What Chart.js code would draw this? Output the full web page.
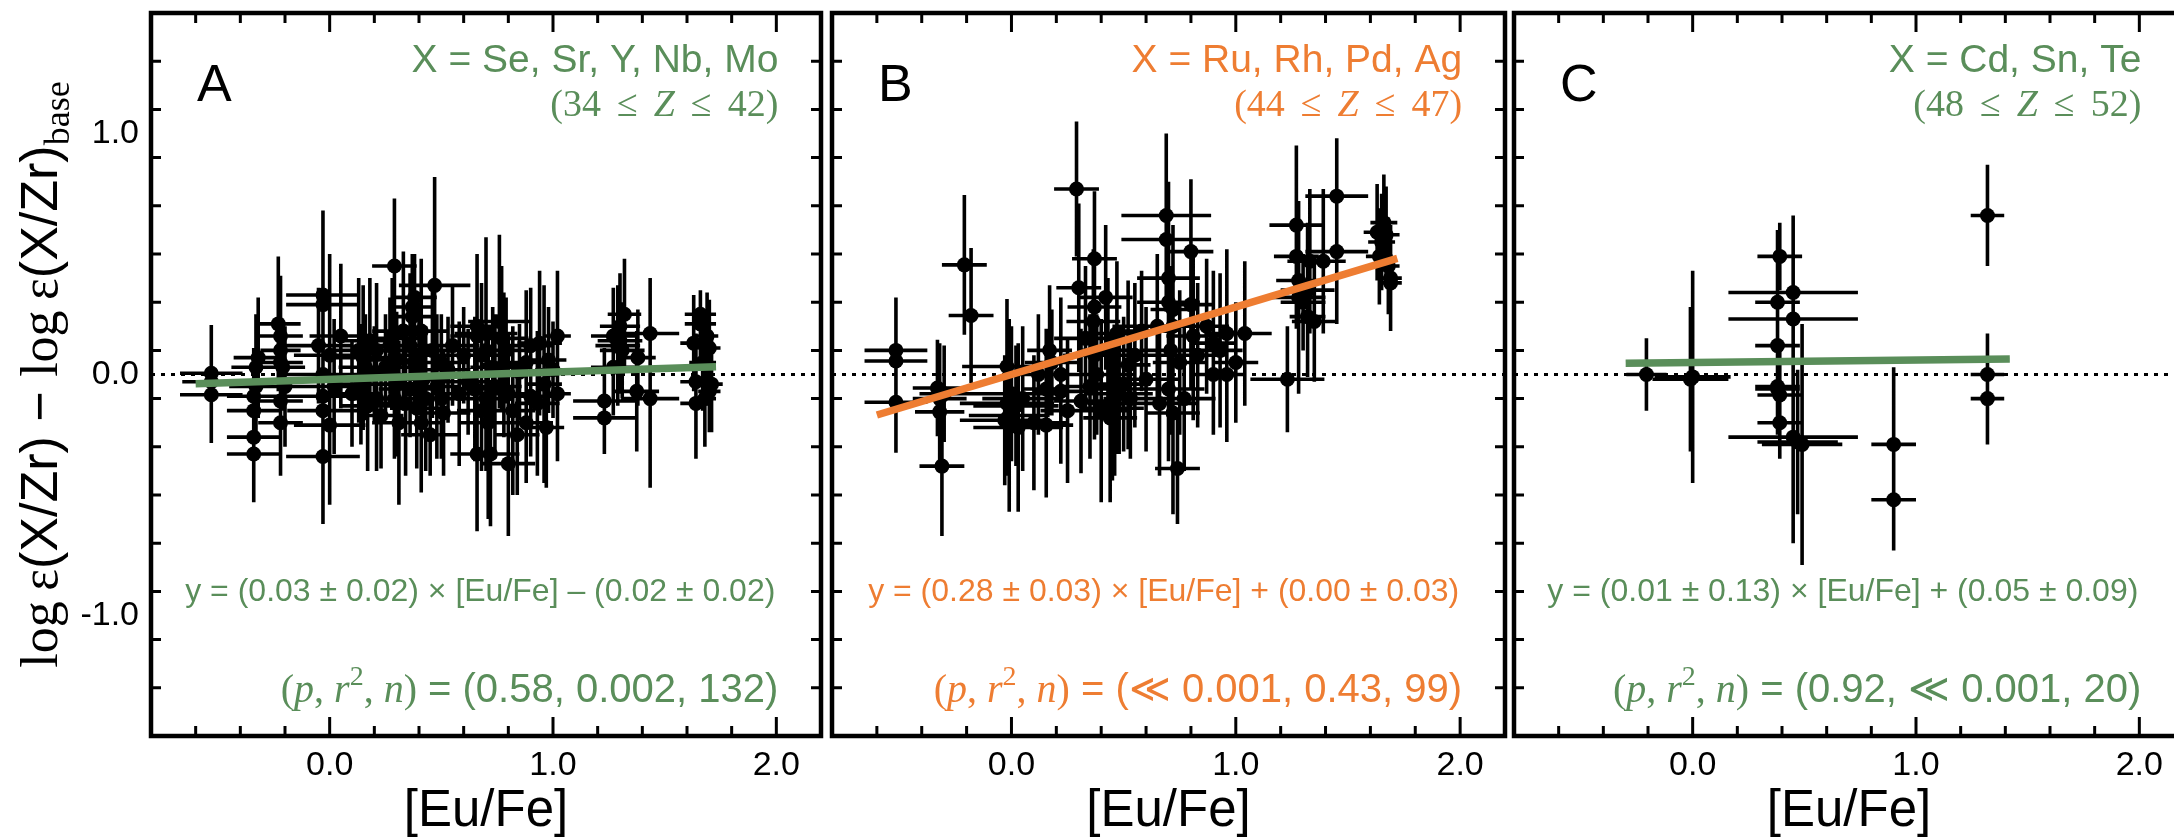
<!DOCTYPE html>
<html>
<head>
<meta charset="utf-8">
<script src="https://cdn.jsdelivr.net/npm/chart.js@4.4.1/dist/chart.umd.min.js"></script>
<style>
  html, body { margin: 0; padding: 0; background: #fff; overflow: hidden; width: 2174px; height: 839px; }
  canvas { position: absolute; left: 0; top: 0; }
</style>
</head>
<body>
<canvas id="panelA" width="2200" height="839"></canvas>
<canvas id="panelB" width="2200" height="839"></canvas>
<canvas id="panelC" width="2200" height="839"></canvas>
<script>
// ---- axis ranges and tick labels ----
const xRange = [-0.8, 2.2];
const yRange = [-1.5, 1.5];
const xTickLabels = [0, 1, 2];
const yTickLabels = [-1, 0, 1];
const minorStep = 0.2;

// ---- panel A: X = Se, Sr, Y, Nb, Mo ----
const aEuFe = [
  -0.53,-0.53,-0.53,-0.32,-0.33,-0.34,-0.34,-0.34,-0.34,-0.23,
  -0.22,-0.22,-0.21,-0.22,-0.22,-0.03,-0.03,-0.03,-0.03,-0.03,
  -0.03,0.0,0.0,0.13,0.15,0.16,0.14,0.17,0.21,0.21,
  0.2,0.23,0.29,0.28,0.3,0.3,0.31,0.27,0.29,0.37,
  0.37,0.36,0.38,0.36,0.39,0.41,0.42,0.41,0.4,0.47,
  0.46,0.5,0.5,0.51,0.48,0.53,0.45,0.66,0.66,0.65,
  0.66,0.68,0.7,0.7,0.7,0.71,0.72,0.73,0.62,0.68,
  0.77,0.78,0.8,0.8,0.82,0.79,0.84,0.9,0.9,0.88,
  0.96,0.97,0.93,1.02,1.02,0.94,1.0,1.23,1.23,1.27,
  1.3,1.31,1.32,1.29,1.375,1.435,1.435,1.3,1.38,1.66,
  1.66,1.63,1.7,1.64,1.7,1.64,1.71,1.67,1.69,-0.33,
  -0.22,-0.2,-0.05,0.02,0.05,0.1,0.18,0.25,0.33,0.34,
  0.38,0.43,0.55,0.58,0.6,0.74,0.76,0.85,0.88,0.98,
  1.27,1.68
];
const aEuFeErr = [
  0.14,0.14,0.13,0.11,0.11,0.12,0.12,0.12,0.12,0.1,
  0.1,0.09,0.1,0.1,0.1,0.165,0.165,0.17,0.17,0.16,
  0.165,0.16,0.16,0.14,0.14,0.12,0.13,0.12,0.12,0.1,
  0.12,0.1,0.1,0.12,0.12,0.11,0.12,0.1,0.12,0.1,
  0.1,0.12,0.12,0.14,0.12,0.12,0.12,0.1,0.14,0.16,
  0.12,0.12,0.12,0.12,0.1,0.1,0.13,0.12,0.12,0.1,
  0.12,0.12,0.14,0.14,0.12,0.13,0.13,0.1,0.14,0.11,
  0.12,0.1,0.12,0.11,0.1,0.12,0.1,0.1,0.1,0.1,
  0.08,0.08,0.1,0.06,0.06,0.1,0.08,0.14,0.14,0.1,
  0.1,0.1,0.075,0.1,0.1,0.13,0.13,0.09,0.08,0.07,
  0.07,0.06,0.05,0.07,0.05,0.07,0.05,0.06,0.05,0.12,
  0.1,0.1,0.15,0.15,0.14,0.12,0.13,0.12,0.14,0.12,
  0.1,0.13,0.12,0.12,0.13,0.12,0.14,0.1,0.12,0.08,
  0.1,0.05
];
const aRatio = [
  0.005,-0.084,-0.03,0.07,0.03,-0.09,-0.15,-0.26,-0.33,0.21,
  0.16,0.1,0.03,-0.11,-0.2,0.33,0.29,0.0,-0.09,-0.15,
  -0.34,0.08,-0.21,0.1,0.07,0.03,-0.04,-0.13,0.1,-0.1,
  0.0,-0.17,0.45,0.15,0.06,-0.04,-0.2,0.12,-0.1,0.28,
  0.24,0.12,0.05,-0.06,-0.14,0.18,-0.02,-0.2,0.08,0.37,
  0.1,0.05,-0.1,-0.16,-0.05,0.02,-0.25,0.2,0.16,-0.06,
  -0.33,0.08,0.17,0.1,-0.1,-0.2,-0.33,0.03,-0.03,-0.15,
  0.15,0.04,-0.37,-0.08,-0.15,0.1,-0.25,0.12,-0.09,0.05,
  -0.04,-0.22,-0.12,0.16,-0.08,0.13,0.02,-0.11,-0.18,0.16,
  0.14,0.1,0.25,0.12,-0.07,0.17,-0.1,0.2,0.07,0.25,
  0.21,0.13,0.11,-0.03,-0.07,-0.12,-0.04,0.05,0.16,-0.05,
  0.05,-0.05,0.12,-0.05,0.16,-0.08,0.14,0.03,0.18,-0.12,
  0.32,-0.1,0.12,-0.08,0.08,-0.05,0.22,0.01,-0.2,0.06,
  0.03,-0.1
];
const aRatioErr = [
  0.2,0.2,0.12,0.25,0.22,0.2,0.22,0.2,0.2,0.28,
  0.25,0.2,0.18,0.31,0.2,0.35,0.3,0.25,0.22,0.2,
  0.28,0.42,0.33,0.3,0.3,0.22,0.25,0.27,0.28,0.3,
  0.2,0.22,0.28,0.25,0.2,0.3,0.34,0.2,0.25,0.22,
  0.25,0.3,0.2,0.2,0.25,0.3,0.2,0.29,0.22,0.45,
  0.28,0.2,0.25,0.26,0.3,0.22,0.17,0.3,0.25,0.3,
  0.32,0.3,0.4,0.38,0.3,0.4,0.3,0.25,0.22,0.25,
  0.3,0.3,0.3,0.25,0.35,0.22,0.25,0.24,0.25,0.3,
  0.41,0.25,0.3,0.27,0.28,0.3,0.2,0.22,0.15,0.2,
  0.22,0.2,0.23,0.25,0.25,0.23,0.37,0.22,0.2,0.1,
  0.14,0.2,0.2,0.2,0.17,0.23,0.2,0.2,0.18,0.2,
  0.22,0.25,0.24,0.28,0.3,0.22,0.26,0.22,0.33,0.3,
  0.18,0.3,0.25,0.3,0.2,0.3,0.36,0.2,0.25,0.22,
  0.2,0.2
];

// ---- panel B: X = Ru, Rh, Pd, Ag ----
const bEuFe = [
  -0.515,-0.515,-0.515,-0.33,-0.32,-0.31,-0.32,-0.21,-0.18,-0.02,
  -0.03,-0.02,0.02,0.0,-0.01,0.155,0.155,0.17,0.22,0.22,
  0.29,0.3,0.31,0.37,0.37,0.365,0.37,0.42,0.44,0.47,
  0.52,0.46,0.48,0.5,0.69,0.69,0.7,0.7,0.72,0.72,
  0.71,0.7,0.72,0.74,0.8,0.8,0.81,0.9,0.9,0.96,
  0.96,1.04,1.23,1.27,1.27,1.28,1.28,1.32,1.33,1.39,
  1.45,1.45,1.63,1.66,1.67,1.64,1.69,1.69,0.05,0.03,
  0.1,0.12,0.18,0.25,0.33,0.35,0.38,0.4,0.43,0.45,
  0.47,0.53,0.55,0.58,0.6,0.65,0.66,0.75,0.77,0.83,
  0.87,0.93,1.0,1.3,1.35,1.32,1.65,1.68,-0.3
];
const bEuFeErr = [
  0.14,0.14,0.14,0.11,0.11,0.1,0.12,0.1,0.1,0.2,
  0.2,0.21,0.19,0.2,0.18,0.1,0.12,0.1,0.12,0.12,
  0.1,0.1,0.12,0.1,0.12,0.12,0.14,0.12,0.12,0.12,
  0.1,0.12,0.15,0.12,0.2,0.2,0.14,0.14,0.1,0.12,
  0.14,0.16,0.12,0.1,0.1,0.1,0.12,0.1,0.1,0.1,
  0.08,0.12,0.165,0.12,0.1,0.1,0.12,0.08,0.1,0.1,
  0.14,0.14,0.06,0.06,0.06,0.06,0.05,0.05,0.18,0.2,
  0.15,0.16,0.12,0.12,0.14,0.12,0.15,0.12,0.12,0.14,
  0.14,0.12,0.15,0.14,0.15,0.2,0.17,0.12,0.14,0.12,
  0.1,0.1,0.1,0.1,0.1,0.12,0.06,0.05,0.11
];
const bRatio = [
  0.1,0.056,-0.115,-0.056,-0.155,-0.38,-0.1,0.455,0.245,0.033,
  -0.19,-0.12,-0.13,-0.08,-0.17,-0.06,-0.21,0.1,0.0,-0.07,
  0.77,0.36,-0.11,0.48,0.28,0.22,0.08,0.32,-0.18,0.17,
  0.04,-0.12,-0.08,-0.04,0.66,0.56,0.4,0.3,0.27,0.2,
  0.1,-0.06,-0.16,-0.39,0.51,0.29,0.16,0.13,0.0,0.17,
  0.0,0.17,-0.02,0.62,0.49,0.39,0.32,0.24,0.47,0.47,
  0.74,0.51,0.59,0.63,0.58,0.49,0.4,0.38,-0.1,-0.22,
  -0.2,0.0,0.05,-0.15,0.15,-0.05,0.0,-0.15,0.1,-0.14,
  -0.06,-0.1,0.08,0.18,-0.02,0.2,-0.12,0.05,-0.1,0.08,
  0.2,0.1,0.05,0.3,0.22,0.35,0.55,0.45,-0.08
];
const bRatioErr = [
  0.22,0.2,0.21,0.2,0.2,0.29,0.23,0.29,0.28,0.28,
  0.27,0.3,0.25,0.28,0.4,0.25,0.3,0.27,0.32,0.3,
  0.28,0.35,0.3,0.28,0.34,0.3,0.35,0.3,0.35,0.3,
  0.35,0.3,0.25,0.28,0.34,0.3,0.4,0.3,0.35,0.3,
  0.35,0.3,0.42,0.23,0.3,0.35,0.35,0.3,0.25,0.35,
  0.28,0.3,0.22,0.33,0.3,0.3,0.4,0.25,0.3,0.3,
  0.24,0.3,0.2,0.2,0.2,0.2,0.22,0.18,0.3,0.35,
  0.28,0.25,0.22,0.3,0.3,0.3,0.25,0.38,0.3,0.3,
  0.27,0.25,0.3,0.25,0.3,0.3,0.3,0.3,0.3,0.3,
  0.28,0.32,0.25,0.2,0.25,0.28,0.2,0.2,0.2
];

// ---- panel C: X = Cd, Sn, Te ----
const cEuFe = [
  -0.207,0.0,0.39,0.38,0.45,0.45,0.38,0.38,0.39,0.39,
  0.45,0.49,0.9,0.9,1.32,1.32,1.32,0.38,0.47,-0.01
];
const cEuFeErr = [
  0.09,0.17,0.1,0.1,0.29,0.29,0.1,0.1,0.1,0.1,
  0.29,0.18,0.1,0.1,0.075,0.075,0.075,0.1,0.18,0.17
];
const cRatio = [
  0.0,-0.01,0.49,0.3,0.34,0.23,0.12,-0.05,-0.085,-0.2,
  -0.26,-0.29,-0.29,-0.52,0.66,0.0,-0.1,-0.06,-0.28,-0.02
];
const cRatioErr = [
  0.15,0.44,0.14,0.3,0.32,0.2,0.25,0.2,0.2,0.15,
  0.44,0.5,0.32,0.21,0.21,0.17,0.19,0.18,0.3,0.3
];

// ---- per-panel annotations and linear fits ----
const panelLetters = ['A', 'B', 'C'];
const elementSets = ['X = Se, Sr, Y, Nb, Mo', 'X = Ru, Rh, Pd, Ag', 'X = Cd, Sn, Te'];
const zLow = [34, 44, 48];
const zHigh = [42, 47, 52];
const fitSlope = [0.03, 0.28, 0.01];
const fitSlopeErr = [0.02, 0.03, 0.13];
const fitIntercept = [-0.02, 0.00, 0.05];
const fitInterceptErr = [0.02, 0.03, 0.09];
const fitFrom = [-0.6, -0.6, -0.3];
const fitTo = [1.73, 1.72, 1.42];
const pValue = ['0.58', '\u226A 0.001', '0.92'];
const rSquared = ['0.002', '0.43', '\u226A 0.001'];

// ---- styling / layout ----
const SANS = '"Liberation Sans", Arial, Helvetica, sans-serif';
const SERIF = '"Liberation Serif", "Times New Roman", serif';
const GREEN = '#5a8e5a';
const ORANGE = '#ee7d32';
const CANVAS_W = 2200, CANVAS_H = 839;
const PLOT_TOP = 13, PLOT_BOTTOM = 736;
const plotLeft = [151, 832, 1514];
const plotRight = [821, 1505, 2184];
const panelColors = [GREEN, ORANGE, GREEN];

function fontFor(k, size) {
  if (k === 's') return size + 'px ' + SANS;
  if (k === 'r') return size + 'px ' + SERIF;
  if (k === 'i') return 'italic ' + size + 'px ' + SERIF;
  return Math.round(size * 0.7) + 'px ' + SERIF; // sup / sub
}
function segWidth(ctx, s, size) {
  if (s.gap) return s.gap * size;
  ctx.font = fontFor(s.k, size);
  return ctx.measureText(s.t).width;
}
function drawRich(ctx, segs, x, y, size, align, color) {
  const total = segs.reduce((a, s) => a + segWidth(ctx, s, size), 0);
  let cx = align === 'right' ? x - total : align === 'center' ? x - total / 2 : x;
  ctx.fillStyle = color;
  ctx.textAlign = 'left';
  ctx.textBaseline = 'alphabetic';
  for (const s of segs) {
    const w = segWidth(ctx, s, size);
    if (!s.gap) {
      ctx.font = fontFor(s.k, size);
      const dy = s.k === 'sup' ? -0.42 * size : s.k === 'sub' ? 0.24 * size : 0;
      ctx.fillText(s.t, cx, y + dy);
    }
    cx += w;
  }
}

function tickValues(lo, hi, step) {
  const out = [];
  const n = Math.round((hi - lo) / step);
  for (let i = 1; i < n; i++) out.push(+(lo + i * step).toFixed(6));
  return out;
}

function makeDecor(idx) {
  const color = panelColors[idx];
  return {
    id: 'panelDecor' + idx,
    beforeDatasetsDraw(chart) {
      const ctx = chart.ctx, xs = chart.scales.x, ys = chart.scales.y, area = chart.chartArea;
      ctx.save();
      // dotted reference line at zero
      const y0 = ys.getPixelForValue(0);
      ctx.strokeStyle = '#000';
      ctx.lineWidth = 3;
      ctx.setLineDash([4, 6]);
      ctx.beginPath();
      ctx.moveTo(area.left, y0);
      ctx.lineTo(area.right, y0);
      ctx.stroke();
      ctx.setLineDash([]);
      // error bars
      const pts = chart.data.datasets[1].data;
      ctx.lineWidth = 3.6;
      ctx.lineCap = 'butt';
      ctx.beginPath();
      for (const p of pts) {
        const px = xs.getPixelForValue(p.x), py = ys.getPixelForValue(p.y);
        ctx.moveTo(xs.getPixelForValue(p.x - p.xErr), py);
        ctx.lineTo(xs.getPixelForValue(p.x + p.xErr), py);
        ctx.moveTo(px, ys.getPixelForValue(p.y + p.yErr));
        ctx.lineTo(px, ys.getPixelForValue(p.y - p.yErr));
      }
      ctx.stroke();
      ctx.restore();
    },
    afterDatasetsDraw(chart) {
      const ctx = chart.ctx, xs = chart.scales.x, ys = chart.scales.y, area = chart.chartArea;
      ctx.save();
      // frame
      ctx.strokeStyle = '#000';
      ctx.lineWidth = 4.5;
      ctx.strokeRect(area.left, area.top, area.right - area.left, area.bottom - area.top);
      // inward ticks on all four sides
      ctx.lineWidth = 3;
      ctx.beginPath();
      for (const v of tickValues(xRange[0], xRange[1], minorStep)) {
        const len = xTickLabels.some(t => Math.abs(t - v) < 1e-6) ? 19 : 10;
        const px = xs.getPixelForValue(v);
        ctx.moveTo(px, area.bottom); ctx.lineTo(px, area.bottom - len);
        ctx.moveTo(px, area.top); ctx.lineTo(px, area.top + len);
      }
      for (const v of tickValues(yRange[0], yRange[1], minorStep)) {
        const len = yTickLabels.some(t => Math.abs(t - v) < 1e-6) ? 19 : 10;
        const py = ys.getPixelForValue(v);
        ctx.moveTo(area.left, py); ctx.lineTo(area.left + len, py);
        ctx.moveTo(area.right, py); ctx.lineTo(area.right - len, py);
      }
      ctx.stroke();

      // x tick labels and title
      ctx.fillStyle = '#000';
      ctx.font = '34px ' + SANS;
      ctx.textAlign = 'center';
      ctx.textBaseline = 'alphabetic';
      for (const v of xTickLabels) ctx.fillText(v.toFixed(1), xs.getPixelForValue(v), 775);
      ctx.font = '51px ' + SANS;
      ctx.fillText('[Eu/Fe]', (area.left + area.right) / 2, 826);

      // y tick labels and title (first panel only)
      if (idx === 0) {
        ctx.font = '34px ' + SANS;
        ctx.textAlign = 'right';
        ctx.textBaseline = 'middle';
        for (const v of yTickLabels) ctx.fillText(v.toFixed(1), area.left - 12, ys.getPixelForValue(v));
        ctx.save();
        ctx.translate(57, ys.getPixelForValue(0));
        ctx.rotate(-Math.PI / 2);
        drawRich(ctx, [
          { t: 'log', k: 'r' }, { gap: 0.2 }, { t: '\u03B5', k: 'r' }, { t: '(X/Zr)', k: 's' },
          { t: ' \u2212 ', k: 's' },
          { t: 'log', k: 'r' }, { gap: 0.2 }, { t: '\u03B5', k: 'r' }, { t: '(X/Zr)', k: 's' },
          { t: 'base', k: 'sub' }
        ], 0, 0, 52, 'center', '#000');
        ctx.restore();
      }

      // panel annotations
      const right = xs.getPixelForValue(2.0) + 2;
      ctx.fillStyle = '#000';
      ctx.font = '52px ' + SANS;
      ctx.textAlign = 'left';
      ctx.textBaseline = 'alphabetic';
      ctx.fillText(panelLetters[idx], area.left + 46, 101);

      drawRich(ctx, [{ t: elementSets[idx], k: 's' }], right, 72, 39, 'right', color);
      drawRich(ctx, [
        { t: '(' + zLow[idx], k: 'r' }, { gap: 0.42 }, { t: '\u2264', k: 'r' }, { gap: 0.42 },
        { t: 'Z', k: 'i' }, { gap: 0.42 }, { t: '\u2264', k: 'r' }, { gap: 0.42 },
        { t: zHigh[idx] + ')', k: 'r' }
      ], right, 116, 38, 'right', color);

      const icpt = fitIntercept[idx];
      const eq = 'y = (' + fitSlope[idx].toFixed(2) + ' \u00B1 ' + fitSlopeErr[idx].toFixed(2) +
        ') \u00D7 [Eu/Fe] ' + (icpt < 0 ? '\u2013' : '+') + ' (' + Math.abs(icpt).toFixed(2) +
        ' \u00B1 ' + fitInterceptErr[idx].toFixed(2) + ')';
      drawRich(ctx, [{ t: eq, k: 's' }], right - 3, 601, 32, 'right', color);

      const n = chart.data.datasets[1].data.length;
      drawRich(ctx, [
        { t: '(', k: 'r' }, { t: 'p', k: 'i' }, { t: ', ', k: 'r' }, { t: 'r', k: 'i' }, { t: '2', k: 'sup' },
        { t: ', ', k: 'r' }, { t: 'n', k: 'i' }, { t: ')', k: 'r' },
        { t: ' = (' + pValue[idx] + ', ' + rSquared[idx] + ', ' + n + ')', k: 's' }
      ], right, 702, 40, 'right', color);
      ctx.restore();
    }
  };
}

const panelData = [
  [aEuFe, aEuFeErr, aRatio, aRatioErr],
  [bEuFe, bEuFeErr, bRatio, bRatioErr],
  [cEuFe, cEuFeErr, cRatio, cRatioErr]
];
const canvasIds = ['panelA', 'panelB', 'panelC'];

panelData.forEach(([xv, xe, yv, ye], idx) => {
  const pts = xv.map((x, i) => ({ x: x, y: yv[i], xErr: xe[i], yErr: ye[i] }));
  const fitLine = [fitFrom[idx], fitTo[idx]].map(x => ({ x: x, y: fitSlope[idx] * x + fitIntercept[idx] }));
  new Chart(document.getElementById(canvasIds[idx]), {
    type: 'scatter',
    data: {
      datasets: [
        { data: fitLine, showLine: true, borderColor: panelColors[idx], borderWidth: 7.5,
          pointRadius: 0, borderCapStyle: 'butt', order: 0 },
        { data: pts, backgroundColor: '#000', borderColor: '#000', borderWidth: 0,
          pointRadius: 7.5, order: 1 }
      ]
    },
    options: {
      responsive: false,
      animation: false,
      devicePixelRatio: 1,
      events: [],
      layout: { padding: { left: plotLeft[idx], right: CANVAS_W - plotRight[idx], top: PLOT_TOP, bottom: CANVAS_H - PLOT_BOTTOM } },
      scales: {
        x: { type: 'linear', min: xRange[0], max: xRange[1], display: false },
        y: { type: 'linear', min: yRange[0], max: yRange[1], display: false }
      },
      plugins: { legend: { display: false }, tooltip: { enabled: false } }
    },
    plugins: [makeDecor(idx)]
  });
});
</script>
</body>
</html>
